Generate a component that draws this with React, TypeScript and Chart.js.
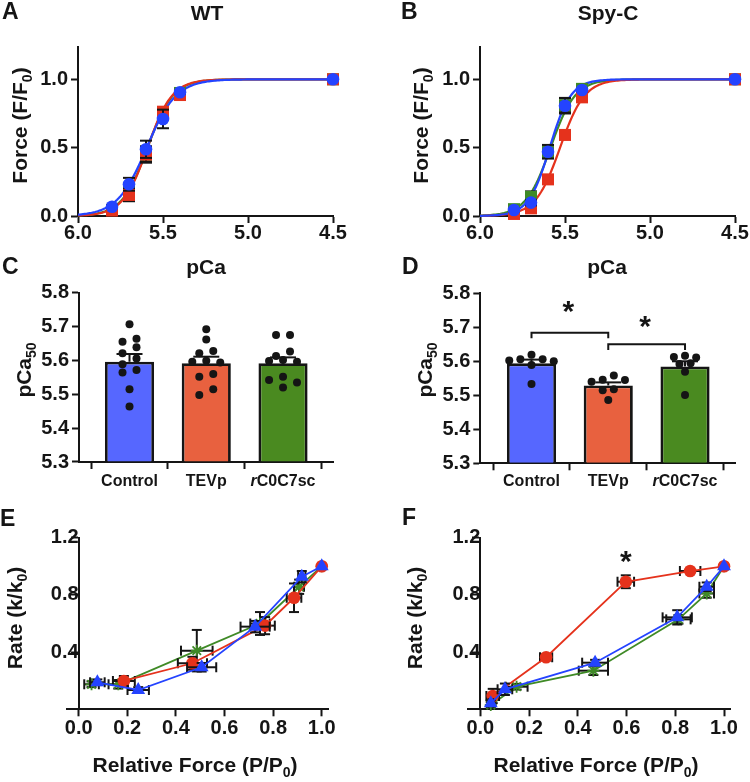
import React, { useEffect, useRef } from 'react';
import { Chart, registerables } from 'chart.js';

Chart.register(...registerables);

const FONT = '"Liberation Sans", Arial, Helvetica, sans-serif';
const PAGE_W = 750;
const PAGE_H = 782;
const Y_AXIS_W = 70;
const X_AXIS_H = 40;

const BLUE = '#2443ff';
const RED = '#e5321c';
const GREEN = '#3f8a26';
const BAR_BLUE = '#5667ff';
const BAR_RED = '#e8613f';
const BAR_GREEN = '#4a8a20';
const INK = '#151515';

// ---------------- A / B : force vs pCa ----------------
const pCaLevels = [5.8, 5.7, 5.6, 5.5, 5.4, 4.5];
const pCaTicks = [6.0, 5.5, 5.0, 4.5];
const forceTicks = [0, 0.5, 1.0];

const wtControlForce = [0.068, 0.232, 0.488, 0.71, 0.905, 1.0];
const wtControlErr = [0.01, 0.047, 0.063, 0.068, 0.012, 0];
const wtTevpForce = [0.04, 0.154, 0.45, 0.763, 0.885, 1.0];
const wtTevpErr = [0.01, 0.046, 0.06, 0.03, 0.012, 0];
const wtRc0Force = [0.045, 0.17, 0.45, 0.745, 0.9, 1.0];
const wtRc0Err = [0.01, 0.05, 0.05, 0.03, 0.01, 0];
// Hill fit parameters (Control, TEVp, rC0C7sc)
const wtFitPCa50 = [5.596, 5.591, 5.591];
const wtFitHill = [5.0, 6.0, 5.8];

const spyControlForce = [0.044, 0.098, 0.47, 0.807, 0.922, 1.0];
const spyControlErr = [0.01, 0.02, 0.05, 0.057, 0.01, 0];
const spyTevpForce = [0.015, 0.056, 0.268, 0.593, 0.868, 1.0];
const spyTevpErr = [0.005, 0.01, 0.015, 0.015, 0.01, 0];
const spyRc0Force = [0.05, 0.14, 0.47, 0.81, 0.93, 1.0];
const spyRc0Err = [0.01, 0.04, 0.04, 0.05, 0.01, 0];
const spyFitPCa50 = [5.59, 5.529, 5.585];
const spyFitHill = [7.0, 6.0, 6.0];

// ---------------- C / D : pCa50 bars ----------------
const groups = ['Control', 'TEVp', 'rC0C7sc'];
const pCa50Ticks = [5.3, 5.4, 5.5, 5.6, 5.7, 5.8];

const wtMeans = [5.596, 5.592, 5.592];
const wtSem = [0.023, 0.019, 0.017];
const wtControlDots = [5.707, 5.655, 5.664, 5.639, 5.621, 5.606, 5.589, 5.572, 5.564, 5.515, 5.464];
const wtTevpDots = [5.692, 5.662, 5.628, 5.621, 5.599, 5.596, 5.594, 5.56, 5.552, 5.515, 5.498];
const wtRc0Dots = [5.675, 5.675, 5.626, 5.613, 5.601, 5.598, 5.596, 5.552, 5.542, 5.535, 5.52];

const spyMeans = [5.594, 5.529, 5.585];
const spySem = [0.011, 0.009, 0.015];
const spyControlDots = [5.619, 5.606, 5.606, 5.602, 5.6, 5.589, 5.533];
const spyTevpDots = [5.558, 5.546, 5.545, 5.54, 5.518, 5.515, 5.486];
const spyRc0Dots = [5.616, 5.613, 5.611, 5.594, 5.592, 5.569, 5.501];

// ---------------- E / F : rate vs relative force ----------------
const forceAxisTicks = [0, 0.2, 0.4, 0.6, 0.8, 1.0];
const rateTicks = [0.4, 0.8, 1.2];

const eTevpX = [0.186, 0.468, 0.767, 0.886, 1.0];
const eTevpY = [0.198, 0.322, 0.585, 0.78, 1.0];
const eTevpXErr = [0.045, 0.06, 0.04, 0.03, 0];
const eTevpYErr = [0.035, 0.045, 0.06, 0.1, 0];
const eRc0X = [0.053, 0.163, 0.486, 0.746, 0.907, 1.0];
const eRc0Y = [0.175, 0.175, 0.41, 0.6, 0.857, 1.0];
const eRc0XErr = [0.03, 0.04, 0.065, 0.04, 0.02, 0];
const eRc0YErr = [0.02, 0.03, 0.145, 0.08, 0.05, 0];
const eControlX = [0.077, 0.245, 0.506, 0.726, 0.918, 1.0];
const eControlY = [0.189, 0.135, 0.294, 0.578, 0.927, 1.0];
const eControlXErr = [0.03, 0.044, 0.06, 0.06, 0.015, 0];
const eControlYErr = [0.02, 0.02, 0.03, 0.04, 0.04, 0];

const fTevpX = [0.051, 0.27, 0.597, 0.861, 1.0];
const fTevpY = [0.093, 0.364, 0.892, 0.967, 1.0];
const fTevpXErr = [0.026, 0.025, 0.034, 0.042, 0];
const fTevpYErr = [0.05, 0.02, 0.045, 0.015, 0];
const fRc0X = [0.043, 0.149, 0.464, 0.813, 0.929, 1.0];
const fRc0Y = [0.03, 0.158, 0.27, 0.629, 0.81, 1.0];
const fRc0XErr = [0.01, 0.045, 0.06, 0.05, 0.03, 0];
const fRc0YErr = [0.02, 0.02, 0.03, 0.03, 0.03, 0];
const fControlX = [0.043, 0.101, 0.471, 0.808, 0.929, 1.0];
const fControlY = [0.042, 0.14, 0.326, 0.643, 0.857, 1.0];
const fControlXErr = [0.01, 0.03, 0.053, 0.06, 0.03, 0];
const fControlYErr = [0.02, 0.04, 0.02, 0.05, 0.03, 0];

// ---------------- helpers ----------------
const hill = (pCa: number, pCa50: number, n: number) => 1 / (1 + Math.pow(10, n * (pCa - pCa50)));
const curveGrid = Array.from({ length: 151 }, (_, i) => 6.0 - i * 0.01);
const fitCurve = (pCa50: number, n: number) => curveGrid.map((p) => ({ x: p, y: hill(p, pCa50, n) }));
const zipXY = (xs: number[], ys: number[]) => xs.map((x, i) => ({ x, y: ys[i] }));

function swarm(values: number[], center: number, rowTol: number, step: number) {
  const sorted = [...values].sort((a, b) => b - a);
  const rows: number[][] = [];
  for (const v of sorted) {
    const row = rows[rows.length - 1];
    if (row && row[0] - v < rowTol) row.push(v);
    else rows.push([v]);
  }
  const pts: { x: number; y: number }[] = [];
  for (const row of rows) {
    const n = row.length;
    const slots: number[] = n % 2 ? [0] : [];
    for (let k = 1; slots.length < n; k++) {
      if (n % 2) slots.push(-k * step, k * step);
      else slots.push((k - 0.5) * step, -(k - 0.5) * step);
    }
    row.forEach((v, i) => pts.push({ x: center + slots[i], y: v }));
  }
  return pts;
}

const errorBarPlugin = {
  id: 'errorBars',
  beforeDatasetDraw(chart: any, args: any) {
    const ds = chart.data.datasets[args.index];
    if (!ds.errY && !ds.errX) return;
    const ctx = chart.ctx;
    const xs = chart.scales.x;
    const ys = chart.scales.y;
    const cap = ds.errCap ?? 5;
    ctx.save();
    ctx.strokeStyle = INK;
    ctx.lineWidth = ds.errWidth ?? 2;
    const seg = (x1: number, y1: number, x2: number, y2: number) => {
      ctx.beginPath();
      ctx.moveTo(x1, y1);
      ctx.lineTo(x2, y2);
      ctx.stroke();
    };
    ds.data.forEach((p: any, i: number) => {
      const px = xs.getPixelForValue(p.x);
      const py = ys.getPixelForValue(p.y);
      const ey = ds.errY ? ds.errY[i] : 0;
      if (ey) {
        const top = ys.getPixelForValue(p.y + ey);
        const bot = ds.errUpOnly ? py : ys.getPixelForValue(p.y - ey);
        seg(px, top, px, bot);
        seg(px - cap, top, px + cap, top);
        if (!ds.errUpOnly) seg(px - cap, bot, px + cap, bot);
      }
      const ex = ds.errX ? ds.errX[i] : 0;
      if (ex) {
        const l = xs.getPixelForValue(p.x - ex);
        const r = xs.getPixelForValue(p.x + ex);
        seg(l, py, r, py);
        seg(l, py - cap, l, py + cap);
        seg(r, py - cap, r, py + cap);
      }
    });
    ctx.restore();
  },
};
Chart.register(errorBarPlugin as any);

type Part = { t: string; sub?: boolean; italic?: boolean };

function drawRich(ctx: CanvasRenderingContext2D, parts: Part[], x: number, y: number, size: number, align = 'center', rotate = false) {
  ctx.save();
  const fontFor = (p: Part) => `${p.italic ? 'italic ' : ''}bold ${p.sub ? Math.round(size * 0.68) : size}px ${FONT}`;
  let total = 0;
  const widths = parts.map((p) => {
    ctx.font = fontFor(p);
    const w = ctx.measureText(p.t).width;
    total += w;
    return w;
  });
  ctx.translate(x, y);
  if (rotate) ctx.rotate(-Math.PI / 2);
  let cx = align === 'center' ? -total / 2 : align === 'right' ? -total : 0;
  ctx.fillStyle = INK;
  ctx.textBaseline = 'alphabetic';
  ctx.textAlign = 'left';
  const base = 0.358 * size;
  parts.forEach((p, i) => {
    ctx.font = fontFor(p);
    ctx.fillText(p.t, cx, base + (p.sub ? 0.24 * size : 0));
    cx += widths[i];
  });
  ctx.restore();
}

function drawStar(ctx: CanvasRenderingContext2D, x: number, y: number, size: number) {
  ctx.save();
  ctx.font = `bold ${size}px ${FONT}`;
  ctx.fillStyle = INK;
  ctx.textAlign = 'center';
  ctx.textBaseline = 'alphabetic';
  const m = ctx.measureText('*');
  ctx.fillText('*', x, y + (m.actualBoundingBoxAscent - m.actualBoundingBoxDescent) / 2);
  ctx.restore();
}

const labelParts = (label: string): Part[] =>
  /^r[A-Z]/.test(label) ? [{ t: label[0], italic: true }, { t: label.slice(1) }] : [{ t: label }];

const fmt1 = (v: any) => Number(v).toFixed(1);

function scale(min: number, max: number, ticks: number[], fmt: (v: any) => string, extra: any = {}, labelPad = 3) {
  return {
    type: 'linear',
    min,
    max,
    border: { display: true, color: INK, width: 2 },
    grid: { display: true, drawOnChartArea: false, drawTicks: true, tickLength: 7, tickWidth: 2, tickColor: INK, color: INK },
    ticks: {
      autoSkip: false,
      maxRotation: 0,
      minRotation: 0,
      color: INK,
      font: { family: FONT, size: 20, weight: 'bold' },
      padding: labelPad,
      callback: fmt,
    },
    afterBuildTicks: (s: any) => {
      s.ticks = ticks.map((v) => ({ value: v }));
    },
    afterFit: (s: any) => {
      if (s.isHorizontal()) s.height = X_AXIS_H;
      else s.width = Y_AXIS_W;
      s.paddingLeft = 0;
      s.paddingRight = 0;
      s.paddingTop = 0;
      s.paddingBottom = 0;
    },
    ...extra,
  };
}

function baseOptions(area: { l: number; t: number; r: number; b: number }, positionedY = false) {
  return {
    responsive: false,
    maintainAspectRatio: false,
    animation: false,
    events: [],
    layout: {
      padding: {
        left: positionedY ? area.l : area.l - Y_AXIS_W,
        top: area.t,
        right: PAGE_W - area.r,
        bottom: PAGE_H - area.b - X_AXIS_H,
      },
    },
    plugins: { legend: { display: false }, tooltip: { enabled: false }, title: { display: false } },
  };
}

// ---------------- panel builders ----------------
function forcePanel(
  area: any,
  letter: string,
  title: string,
  letterX: number,
  titleX: number,
  yTitleX: number,
  control: number[], controlErr: number[],
  tevp: number[], tevpErr: number[],
  rc0: number[], rc0Err: number[],
  fitP: number[], fitN: number[],
) {
  const markers = (vals: number[], errs: number[], color: string, style: string, radius: number, order: number) => ({
    type: 'scatter',
    data: zipXY(pCaLevels, vals),
    showLine: false,
    pointStyle: style,
    pointRadius: radius,
    pointBackgroundColor: color,
    pointBorderWidth: 0,
    errY: errs,
    errCap: 6,
    order,
    clip: false,
  });
  const curve = (p: number, n: number, color: string, order: number) => ({
    type: 'scatter',
    data: fitCurve(p, n),
    showLine: true,
    pointRadius: 0,
    borderColor: color,
    borderWidth: 2.2,
    order,
    clip: false,
  });
  return {
    type: 'scatter',
    data: {
      datasets: [
        markers(control, controlErr, BLUE, 'circle', 6.3, 1),
        markers(tevp, tevpErr, RED, 'rect', 8.5, 2),
        markers(rc0, rc0Err, GREEN, 'rect', 8.5, 3),
        curve(fitP[0], fitN[0], BLUE, 4),
        curve(fitP[1], fitN[1], RED, 5),
        curve(fitP[2], fitN[2], GREEN, 6),
      ],
    },
    options: {
      ...baseOptions(area),
      scales: {
        x: scale(4.5, 6.0, pCaTicks, fmt1, { reverse: true }, -1.5),
        y: scale(0, 1.24, forceTicks, fmt1),
      },
    },
    plugins: [
      {
        id: 'decor' + letter,
        afterDraw(chart: any) {
          const ctx = chart.ctx;
          drawRich(ctx, [{ t: letter }], letterX, 11, 23, 'left');
          drawRich(ctx, [{ t: title }], titleX, 12, 21);
          drawRich(ctx, [{ t: 'Force (F/F' }, { t: '0', sub: true }, { t: ')' }], yTitleX, 125.5, 21, 'center', true);
        },
      },
    ],
  };
}

function barPanel(
  area: any,
  xRange: number[],
  letter: string,
  letterX: number,
  titleX: number,
  yTitleX: number,
  means: number[], sems: number[],
  dots: number[][],
  step: number,
  extras?: (chart: any) => void,
) {
  const dotPts = dots.flatMap((d, i) => swarm(d, i, 0.02, step));
  return {
    type: 'bar',
    data: {
      datasets: [
        {
          type: 'scatter',
          data: dotPts,
          showLine: false,
          pointRadius: 4,
          pointBackgroundColor: INK,
          pointBorderWidth: 0,
          order: 1,
          clip: false,
        },
        {
          type: 'bar',
          data: means.map((m, i) => ({ x: i, y: m })),
          backgroundColor: [BAR_BLUE, BAR_RED, BAR_GREEN],
          borderColor: INK,
          borderWidth: 2.8,
          base: 5.3,
          barPercentage: 0.8,
          categoryPercentage: 0.8,
          errY: sems,
          errUpOnly: true,
          errCap: 13,
          order: 2,
        },
      ],
    },
    options: {
      ...baseOptions(area),
      scales: {
        x: scale(xRange[0], xRange[1], [0, 1, 2], () => '', { offset: false }),
        y: scale(5.3, 5.8, pCa50Ticks, fmt1),
      },
    },
    plugins: [
      {
        id: 'decor' + letter,
        afterDraw(chart: any) {
          const ctx = chart.ctx;
          const xs = chart.scales.x;
          drawRich(ctx, [{ t: letter }], letterX, 266, 23, 'left');
          drawRich(ctx, [{ t: 'pCa' }], titleX, 266, 21);
          drawRich(ctx, [{ t: 'pCa' }, { t: '50', sub: true }], yTitleX, 370, 21, 'center', true);
          groups.forEach((g, i) => drawRich(ctx, labelParts(g), xs.getPixelForValue(i), 480, 16));
          if (extras) extras(chart);
        },
      },
    ],
  };
}

function ratePanel(
  area: any,
  letter: string,
  letterX: number,
  letterY: number,
  yTitleX: number,
  xTitleX: number,
  tevp: any[], rc0: any[], control: any[],
  extras?: (chart: any) => void,
) {
  const series = (s: any[], color: string, style: string, radius: number, order: number) => ({
    type: 'scatter',
    data: zipXY(s[0], s[1]),
    errX: s[2],
    errY: s[3],
    errCap: 5,
    showLine: true,
    borderColor: color,
    borderWidth: 1.8,
    pointStyle: style,
    pointRadius: radius,
    pointBackgroundColor: color,
    pointBorderColor: color,
    pointBorderWidth: style === 'star' ? 1.8 : 0,
    order,
    clip: false,
  });
  return {
    type: 'scatter',
    data: {
      datasets: [
        series(control, BLUE, 'triangle', 8, 1),
        series(tevp, RED, 'circle', 6.3, 2),
        series(rc0, GREEN, 'star', 6, 3),
      ],
    },
    options: {
      ...baseOptions(area, true),
      scales: {
        x: scale(-0.05, 1.027, forceAxisTicks, fmt1, {}, 0.5),
        y: scale(0, 1.2, rateTicks, fmt1, { position: { x: 0 } }),
      },
    },
    plugins: [
      {
        id: 'decor' + letter,
        afterDraw(chart: any) {
          const ctx = chart.ctx;
          drawRich(ctx, [{ t: letter }], letterX, letterY, 23, 'left');
          drawRich(ctx, [{ t: 'Rate (k/k' }, { t: '0', sub: true }, { t: ')' }], yTitleX, 618, 21, 'center', true);
          drawRich(ctx, [{ t: 'Relative Force (P/P' }, { t: '0', sub: true }, { t: ')' }], xTitleX, 764, 21);
          if (extras) extras(chart);
        },
      },
    ],
  };
}

const builders: (() => any)[] = [
  () =>
    forcePanel({ l: 78, t: 46.5, r: 333, b: 216 }, 'A', 'WT', 2, 207, 19,
      wtControlForce, wtControlErr, wtTevpForce, wtTevpErr, wtRc0Force, wtRc0Err, wtFitPCa50, wtFitHill),
  () =>
    forcePanel({ l: 480, t: 46.5, r: 735, b: 216 }, 'B', 'Spy-C', 401, 608, 420,
      spyControlForce, spyControlErr, spyTevpForce, spyTevpErr, spyRc0Force, spyRc0Err, spyFitPCa50, spyFitHill),
  () =>
    barPanel({ l: 79, t: 292.7, r: 333, b: 462 }, [-0.658, 2.651], 'C', 2, 206, 23,
      wtMeans, wtSem, [wtControlDots, wtTevpDots, wtRc0Dots], 0.182),
  () =>
    barPanel({ l: 480.3, t: 293.3, r: 735, b: 463.3 }, [-0.667, 2.651], 'D', 402, 607, 424,
      spyMeans, spySem, [spyControlDots, spyTevpDots, spyRc0Dots], 0.145,
      (chart: any) => {
        const ctx = chart.ctx;
        const xs = chart.scales.x;
        const ys = chart.scales.y;
        ctx.save();
        ctx.strokeStyle = INK;
        ctx.lineWidth = 2;
        const bracket = (a: number, b: number, top: number, leg: number) => {
          const x1 = xs.getPixelForValue(a);
          const x2 = xs.getPixelForValue(b);
          const y1 = ys.getPixelForValue(top);
          const y2 = ys.getPixelForValue(leg);
          ctx.beginPath();
          ctx.moveTo(x1, y2);
          ctx.lineTo(x1, y1);
          ctx.lineTo(x2, y1);
          ctx.lineTo(x2, y2);
          ctx.stroke();
        };
        bracket(0, 1, 5.684, 5.668);
        bracket(1, 2, 5.65, 5.633);
        ctx.restore();
        drawStar(ctx, xs.getPixelForValue(0.48), ys.getPixelForValue(5.761), 30);
        drawStar(ctx, xs.getPixelForValue(1.48), ys.getPixelForValue(5.715), 30);
      }),
  () =>
    ratePanel({ l: 66.5, t: 537.7, r: 328.3, b: 709.3 }, 'E', 0, 518, 14, 195,
      [eTevpX, eTevpY, eTevpXErr, eTevpYErr],
      [eRc0X, eRc0Y, eRc0XErr, eRc0YErr],
      [eControlX, eControlY, eControlXErr, eControlYErr]),
  () =>
    ratePanel({ l: 468.1, t: 537.7, r: 730.6, b: 709.3 }, 'F', 402, 517, 414, 596,
      [fTevpX, fTevpY, fTevpXErr, fTevpYErr],
      [fRc0X, fRc0Y, fRc0XErr, fRc0YErr],
      [fControlX, fControlY, fControlXErr, fControlYErr],
      (chart: any) => {
        const xs = chart.scales.x;
        const ys = chart.scales.y;
        drawStar(chart.ctx, xs.getPixelForValue(fTevpX[2]), ys.getPixelForValue(fTevpY[2] + 0.17), 30);
      }),
];

function Panel({ build }: { build: () => any }) {
  const ref = useRef<HTMLCanvasElement | null>(null);
  useEffect(() => {
    const chart = new Chart(ref.current as HTMLCanvasElement, build());
    return () => chart.destroy();
  }, [build]);
  return (
    <canvas
      ref={ref}
      width={PAGE_W}
      height={PAGE_H}
      style={{ position: 'absolute', left: 0, top: 0, width: PAGE_W, height: PAGE_H }}
    />
  );
}

export default function App() {
  return (
    <div style={{ position: 'fixed', left: 0, top: 0, width: PAGE_W, height: PAGE_H, background: '#fff' }}>
      {builders.map((b, i) => (
        <Panel key={i} build={b} />
      ))}
    </div>
  );
}
